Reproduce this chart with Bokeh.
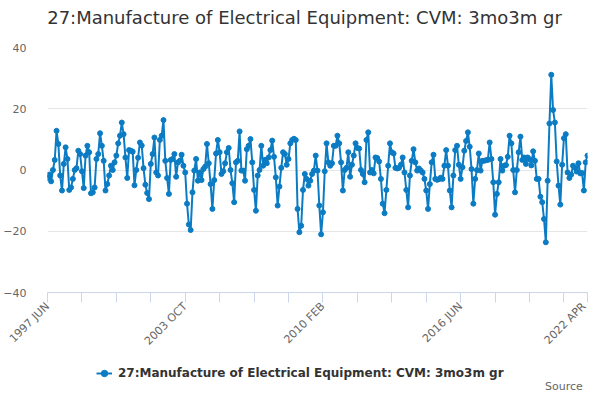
from math import pi

import pandas as pd
from bokeh.embed import file_html
from bokeh.layouts import column
from bokeh.models import FixedTicker, Label, Legend, LegendItem, Range1d
from bokeh.plotting import figure
from bokeh.resources import INLINE

# --- data ---
series_name = "27:Manufacture of Electrical Equipment: CVM: 3mo3m gr"
months = pd.period_range("1997-06", "2022-04", freq="M")
month_labels = [f"{m.year} {m.strftime('%b').upper()}" for m in months]

growth = [
    -2.6, -1.5, -3.7, 0.0, 3.3, 12.8, 8.5, -1.8, -6.7, 2.0,
    7.4, 3.6, -6.5, -5.7, -2.9, 0.0, 0.6, 6.3, 5.2, -0.4,
    -5.9, 4.7, 7.9, 5.8, -7.6, -7.3, -5.7, 3.6, 5.2, 12.0,
    7.9, 3.0, -6.7, -4.6, -1.8, 1.4, 0.0, 2.5, 4.7, 8.7,
    11.2, 15.5, 11.7, 4.1, -2.6, 6.5, 6.3, 6.0, -5.0, 0.0,
    4.0, 9.0, 8.0, 0.6, -4.8, -7.5, -9.5, 2.0, 5.2, 10.6,
    -0.8, -1.8, 9.8, 11.2, 16.3, 3.0, -2.6, -7.8, 3.3, 3.6,
    5.2, -2.2, 2.5, 3.0, 5.0, 1.4, -0.8, -11.0, -17.8, -19.6,
    -7.3, -0.2, 3.6, -3.5, -0.8, -3.3, 0.3, 1.1, 8.5, 2.2,
    -4.6, -12.7, -3.3, 5.4, 9.8, 5.8, -1.3, -0.4, 2.2, 5.8,
    7.2, 0.0, -4.3, -10.5, 2.5, 3.0, 12.6, -0.2, -0.2, -3.5,
    6.8, 7.9, 10.1, 2.5, -6.5, -13.3, -1.8, 0.0, 7.9, 1.4,
    3.3, 2.2, 4.1, 6.5, 9.6, 4.3, -2.4, -11.6, -5.4, 0.7,
    5.8, 5.2, 1.7, 3.6, 8.7, 9.8, 10.2, 9.8, -12.7, -20.3,
    -18.2, -6.5, -1.3, -2.9, -5.1, -3.5, -1.3, -0.2, 4.7, -0.2,
    -11.6, -21.0, -13.8, -0.4, 8.7, 2.5, 1.4, 2.2, 7.9, 7.9,
    11.2, 8.7, 2.5, -6.7, 0.0, 0.7, 5.8, -2.2, 1.7, 4.7,
    8.7, 7.2, 7.0, 0.0, -1.3, -4.0, 9.8, 12.3, -0.8, 0.0,
    -1.1, 4.1, 3.9, 2.8, -2.9, -11.0, -14.1, -6.5, 1.4, 8.7,
    5.8, 5.4, 0.7, 0.5, 0.7, 1.7, 4.1, -0.8, -6.5, -12.2,
    -1.8, 3.0, 6.8, 2.5, -0.2, 0.5, -0.2, -0.8, -2.9, -6.7,
    -12.7, -4.6, 2.5, 5.0, -2.9, -3.2, -3.0, -2.5, -2.9, 1.4,
    6.5, 1.4, -6.7, -12.2, -1.8, 6.5, 7.9, 1.7, -2.9, 0.9,
    6.3, 9.5, 12.3, 7.6, 0.3, -11.0, -2.9, 0.0, 5.4, -0.2,
    3.0, 3.0, 3.2, 3.3, 9.0, 3.6, -4.0, -14.6, -7.8, -4.0,
    3.6, -0.2, 1.4, 1.6, 4.3, 11.2, 8.7, 0.0, -7.3, 0.0,
    5.8, 10.9, 3.3, 4.1, 2.0, 4.1, 3.5, 1.5, 6.1, 3.0,
    -2.9, -2.9, -8.7, -10.5, -16.0, -23.6, -3.5, 15.2, 31.1, 19.6,
    15.5, 2.8, -5.1, -11.3, 1.7, 10.4, 11.7, -0.8, -2.6, -1.5,
    1.4, 0.8, -0.5, 2.2, -1.1, -1.0, -6.7, 2.5, 4.7,
]

y_ticks = [-40, -20, 0, 20, 40]

idx = list(range(len(growth)))
# tick every 19 months, a label on every 4th tick and on the last month
tick_idx = list(range(0, len(idx), 19)) + [len(idx) - 1]
label_idx = tick_idx[::4] + [len(idx) - 1]

BLUE = "#0b7cc3"
FONT = "DejaVu Sans"

# --- header: title ---
head = figure(frame_width=540, frame_height=30, output_backend="svg",
              toolbar_location=None, title=None,
              x_axis_location=None, y_axis_location=None,
              min_border_left=43, min_border_right=1, min_border_top=0, min_border_bottom=0,
              x_range=Range1d(0, 1), y_range=Range1d(0, 1))
head.outline_line_color = None
head.grid.visible = False
head.add_layout(Label(x=257, y=13, x_units="screen", y_units="screen", text=series_name,
                      text_align="center", text_baseline="middle", text_font=FONT,
                      text_font_size="18px", text_color="#333333"))

# --- main chart ---
p = figure(frame_width=540, frame_height=245, title=None,
           output_backend="svg", toolbar_location=None,
           x_range=Range1d(0, len(idx) - 1), y_range=Range1d(-40, 40),
           min_border_left=43, min_border_right=1, min_border_top=17,
           min_border_bottom=55)
p.outline_line_color = None

p.line(idx, growth, line_color=BLUE, line_width=2)
p.scatter(idx, growth, size=5, color=BLUE)

xa = p.xaxis[0]
xa.ticker = FixedTicker(ticks=tick_idx, minor_ticks=[])
xa.major_label_overrides = {i: (month_labels[i] if i in label_idx else "") for i in tick_idx}
xa.major_label_orientation = pi / 4
xa.axis_line_color = "#ccd6eb"
xa.major_tick_line_color = "#ccd6eb"
xa.major_tick_in = 0
xa.major_tick_out = 10
xa.major_label_standoff = 2
xa.major_label_text_font = FONT
xa.major_label_text_font_size = "11px"
xa.major_label_text_color = "#666666"

ya = p.yaxis[0]
ya.ticker = FixedTicker(ticks=y_ticks, minor_ticks=[])
ya.axis_line_color = None
ya.major_tick_line_color = None
ya.major_label_standoff = 15
ya.major_label_text_font = FONT
ya.major_label_text_font_size = "11px"
ya.major_label_text_color = "#666666"

p.xgrid.grid_line_color = None
p.ygrid.ticker = FixedTicker(ticks=y_ticks)
p.ygrid.grid_line_color = "#e6e6e6"

# --- footer: legend and source note ---
# the column lines its frame up with the chart's, so its frame starts 43px in
foot = figure(width=584, height=37, output_backend="svg", toolbar_location=None,
              title=None, x_axis_location=None, y_axis_location=None, min_border=0,
              x_range=Range1d(0, 1), y_range=Range1d(100, 101))
foot.outline_line_color = None
foot.grid.visible = False
# same series, kept off the strip's visible range; only the legend key shows
key_line = foot.line(idx, growth, line_color=BLUE, line_width=2)
key_dot = foot.scatter(idx, growth, size=5, color=BLUE)

legend = Legend(items=[LegendItem(label=series_name, renderers=[key_line, key_dot])],
                location=(49, 9), orientation="horizontal",
                label_text_font=FONT, label_text_font_size="12px",
                label_text_font_style="bold", label_text_color="#333333",
                border_line_color=None, background_fill_alpha=0,
                glyph_width=16, label_standoff=6, padding=2, margin=0)
foot.add_layout(legend)

foot.add_layout(Label(x=539, y=6, x_units="screen", y_units="screen", text="Source:",
                      text_align="right", text_baseline="middle", text_font=FONT,
                      text_font_size="11px", text_color="#666666"))

open("out.html", "w").write(file_html(column(head, p, foot, spacing=0), INLINE))
